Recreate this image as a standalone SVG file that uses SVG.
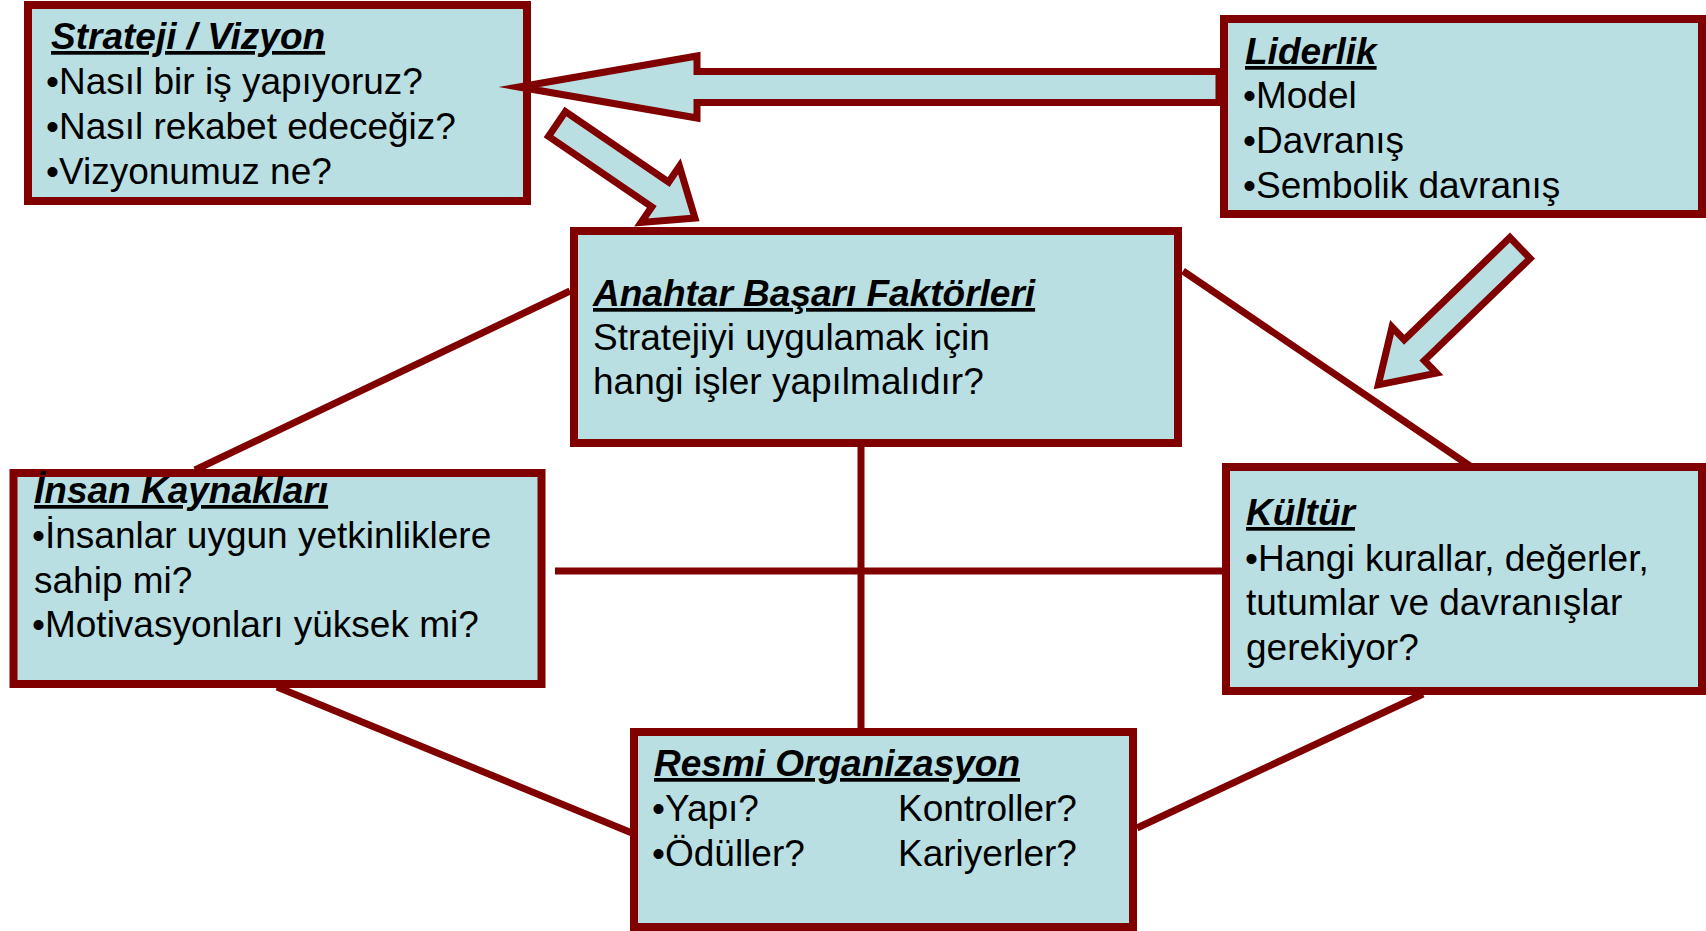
<svg xmlns="http://www.w3.org/2000/svg" width="1706" height="931" viewBox="0 0 1706 931">
<style>
.box{fill:#BADFE2;stroke:#800000;stroke-width:8}
.conn{stroke:#800000;stroke-width:7;fill:none}
.arrow{fill:#BADFE2;stroke:#800000;stroke-width:7;stroke-miterlimit:10;stroke-linejoin:miter}
text{font-family:"Liberation Sans",Arial,sans-serif;font-size:37px;fill:#000}
.t{font-weight:bold;font-style:italic;text-decoration:underline}
</style>
<rect width="1706" height="931" fill="#fff"/>
<g id="connectors">
<line class="conn" x1="570" y1="291" x2="195" y2="470"/>
<line class="conn" x1="1183" y1="271" x2="1470" y2="466"/>
<line class="conn" x1="861" y1="447" x2="861" y2="729"/>
<line class="conn" x1="555" y1="571" x2="1222" y2="571"/>
<line class="conn" x1="277" y1="687" x2="632" y2="833"/>
<line class="conn" x1="1137" y1="828" x2="1423" y2="694"/>
</g>
<g id="strateji">
<rect class="box" x="28" y="5" width="499" height="196"/>
<text x="51" y="49" class="t">Strateji / Vizyon</text>
<text x="46" y="94">•Nasıl bir iş yapıyoruz?</text>
<text x="46" y="139">•Nasıl rekabet edeceğiz?</text>
<text x="46" y="184">•Vizyonumuz ne?</text>
</g>
<g id="liderlik">
<rect class="box" x="1224" y="19" width="478" height="195"/>
<text x="1245" y="64" class="t">Liderlik</text>
<text x="1243" y="108">•Model</text>
<text x="1243" y="153">•Davranış</text>
<text x="1243" y="198">•Sembolik davranış</text>
</g>
<g id="anahtar">
<rect class="box" x="574" y="231" width="604" height="212"/>
<text x="593" y="306" class="t">Anahtar Başarı Faktörleri</text>
<text x="593" y="350">Stratejiyi uygulamak için</text>
<text x="593" y="394">hangi işler yapılmalıdır?</text>
</g>
<g id="insan">
<rect class="box" x="13.5" y="473" width="528" height="211"/>
<text x="34" y="503" class="t">İnsan Kaynakları</text>
<text x="32" y="548">•İnsanlar uygun yetkinliklere</text>
<text x="34" y="593">sahip mi?</text>
<text x="32" y="637">•Motivasyonları yüksek mi?</text>
</g>
<g id="kultur">
<rect class="box" x="1226" y="467" width="476" height="224"/>
<text x="1246" y="525" class="t">Kültür</text>
<text x="1245" y="571">•Hangi kurallar, değerler,</text>
<text x="1246" y="615">tutumlar ve davranışlar</text>
<text x="1246" y="660">gerekiyor?</text>
</g>
<g id="resmi">
<rect class="box" x="634" y="732" width="499" height="195"/>
<text x="654" y="776" class="t">Resmi Organizasyon</text>
<text x="652" y="821">•Yapı?</text>
<text x="898" y="821">Kontroller?</text>
<text x="652" y="866">•Ödüller?</text>
<text x="898" y="866">Kariyerler?</text>
</g>
<g id="arrows">
<polygon class="arrow" points="519,87 697,56 697,71.5 1219,71.5 1219,102.5 697,102.5 697,118"/>
<polygon class="arrow" transform="translate(557,124) rotate(34.3)" points="0,-15 125,-15 125,-34 167,0 125,34 125,15 0,15"/>
<polygon class="arrow" transform="translate(1520,248) rotate(136)" points="0,-14.5 147,-14.5 147,-32 197,0 147,32 147,14.5 0,14.5"/>
</g>
</svg>
